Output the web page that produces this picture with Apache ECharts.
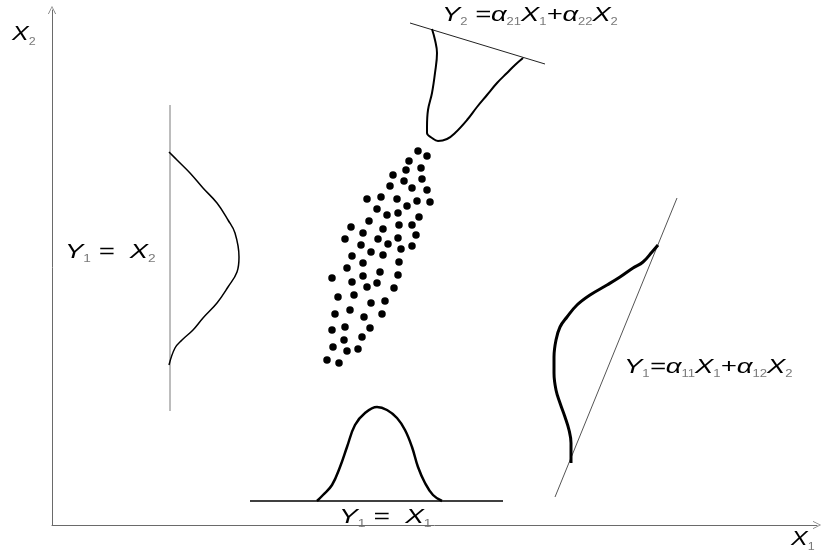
<!DOCTYPE html>
<html>
<head>
<meta charset="utf-8">
<script src="https://cdn.jsdelivr.net/npm/echarts@6/dist/echarts.min.js"></script>
<style>
  html, body { margin: 0; padding: 0; background: #ffffff; }
  #chart { width: 825px; height: 554px; }
</style>
</head>
<body>
<div id="chart"></div>
<script>
// Observations in the (X1, X2) plane
const cloudX1 = [366, 375, 357, 354, 369, 341, 352, 370, 338, 360, 375, 315, 329, 345, 365, 378, 355,
  325, 335, 346, 367, 317, 347, 360, 299, 331, 311, 364, 293, 326, 346, 336, 309, 360, 349, 319,
  300, 331, 347, 311, 295, 328, 346, 311, 280, 300, 315, 325, 342, 302, 286, 319, 333, 298, 283,
  330, 312, 318, 293, 280, 310, 292, 281, 295, 306, 275, 287];
const cloudX2 = [374, 369, 364, 355, 357, 350, 344, 346, 339, 337, 335, 326, 328, 326, 324, 323, 319,
  316, 310, 312, 308, 304, 300, 300, 298, 296, 292, 290, 286, 286, 287, 281, 280, 279, 276, 273,
  269, 270, 263, 262, 257, 253, 250, 249, 247, 243, 238, 242, 237, 230, 228, 222, 224, 215, 211,
  211, 208, 197, 198, 195, 188, 185, 178, 174, 176, 165, 162];

// Marginal density along X1 and its base line
const baseX1 = [198, 451];
const baseX2 = [24, 24];
const densX1a = [265, 271, 280, 288, 295, 303, 313, 325, 335, 345, 353, 360, 366, 373, 381, 390];
const densX2a = [24, 30, 40, 58, 78, 100, 112, 118, 115, 107, 95, 78, 58, 42, 30, 24];

// Marginal density along X2 and its base line
const sideX1 = [118, 118];
const sideX2 = [420, 114];
const densX1b = [117, 125, 138, 151, 165, 176, 183, 187, 185, 176, 165, 151, 141, 130, 123, 117];
const densX2b = [373, 365, 352, 337, 322, 305, 292, 268, 253, 238, 222, 207, 195, 185, 177, 160];

// First rotated direction Y1 and the density projected onto it
const pc1X1 = [503, 625];
const pc1X2 = [28, 327];
const densX1c = [606, 600, 591, 581, 568, 555, 538, 525, 515, 508, 504, 502, 502, 504, 508, 513, 517, 519, 519];
const densX2c = [280, 273, 263, 257, 248, 240, 230, 220, 208, 198, 185, 168, 152, 135, 122, 108, 95, 82, 62];

// Second rotated direction Y2 and the density projected onto it
const pc2X1 = [358, 493];
const pc2X2 = [502, 461];
const densX1d = [380, 383, 385, 383, 380, 376, 375, 375, 380, 386, 395, 403, 415, 425, 435, 445, 455, 463, 471];
const densX2d = [496, 485, 472, 452, 432, 415, 398, 392, 387, 384, 386, 392, 405, 418, 430, 442, 452, 460, 467];

// Annotation texts (rich-text markup: m = main glyphs, s = subscripts)
const labelX2Axis = '{m|X}{s|2}';
const labelX1Axis = '{m|X}{s|1}';
const labelLeft = '{m|Y}{s|1}{m| =  X}{s|2}';
const labelBottom = '{m|Y}{s|1}{m| =  X}{s|1}';
const labelRight = '{m|Y}{s|1}{m|=α}{s|11}{m|X}{s|1}{m|+α}{s|12}{m|X}{s|2}';
const labelTop = '{m|Y}{s|2}{m| =α}{s|21}{m|X}{s|1}{m|+α}{s|22}{m|X}{s|2}';

function zip(xs, ys) { return xs.map((x, i) => [x, ys[i]]); }

const chart = echarts.init(document.getElementById('chart'), null, { renderer: 'canvas', devicePixelRatio: 1 });

const arrowPath = 'path://M5,0 L10,10 L9,10 L5,1.6 L1,10 L0,10 Z';
const FONT = '"Liberation Sans", Arial, sans-serif';

function curve(name, xs, ys, color, width, smooth) {
  return {
    name: name, type: 'line', data: zip(xs, ys), smooth: smooth || false,
    showSymbol: false, symbol: 'none', silent: true,
    lineStyle: { color: color, width: width, opacity: 1 }
  };
}

function label(text, x, y, size, sx, sub, subPad) {
  return {
    type: 'text', x: x, y: y, scaleX: sx, silent: true,
    style: {
      text: text, textVerticalAlign: 'top', textAlign: 'left',
      rich: {
        m: { fontFamily: FONT, fontSize: size, fontStyle: 'italic', fill: '#000000', lineHeight: size },
        s: { fontFamily: FONT, fontSize: sub, fill: '#7a7a7a', padding: [subPad, 0, 0, 0] }
      }
    }
  };
}

chart.setOption({
  animation: false,
  backgroundColor: '#ffffff',
  grid: { left: 52, right: 8, top: 10, bottom: 29 },
  xAxis: {
    type: 'value', min: 0, max: 765,
    axisLine: { show: true, symbol: ['none', arrowPath], symbolSize: [8, 9], lineStyle: { color: '#6a6a6a', width: 1 } },
    axisTick: { show: false }, axisLabel: { show: false }, splitLine: { show: false }
  },
  yAxis: {
    type: 'value', min: 0, max: 515,
    axisLine: { show: true, symbol: ['none', arrowPath], symbolSize: [8, 9], lineStyle: { color: '#6a6a6a', width: 1 } },
    axisTick: { show: false }, axisLabel: { show: false }, splitLine: { show: false }
  },
  series: [
    curve('baseX1', baseX1, baseX2, '#000000', 1.5),
    curve('densityX1', densX1a, densX2a, '#000000', 2.5, 0.4),
    curve('baseX2', sideX1, sideX2, '#7a7a7a', 1),
    curve('densityX2', densX1b, densX2b, '#000000', 1.5, 0.4),
    curve('axisY1', pc1X1, pc1X2, '#555555', 1),
    curve('densityY1', densX1c, densX2c, '#000000', 3, 0.4),
    curve('axisY2', pc2X1, pc2X2, '#222222', 1),
    curve('densityY2', densX1d, densX2d, '#000000', 2, 0.4),
    {
      name: 'observations', type: 'scatter', silent: true,
      data: zip(cloudX1, cloudX2), symbol: 'circle', symbolSize: 7.5,
      itemStyle: { color: '#000000', opacity: 1 }
    }
  ],
  graphic: [
    label(labelX2Axis, 12, 21, 20, 1.25, 10, 16),
    label(labelX1Axis, 791, 526, 20, 1.25, 10, 16),
    label(labelLeft, 65, 240, 20, 1.37, 10, 14),
    label(labelBottom, 339, 505, 20, 1.4, 10, 14),
    label(labelRight, 624, 355, 21, 1.31, 10, 14),
    label(labelTop, 442, 3, 21, 1.3, 10, 14)
  ]
});
</script>
</body>
</html>
